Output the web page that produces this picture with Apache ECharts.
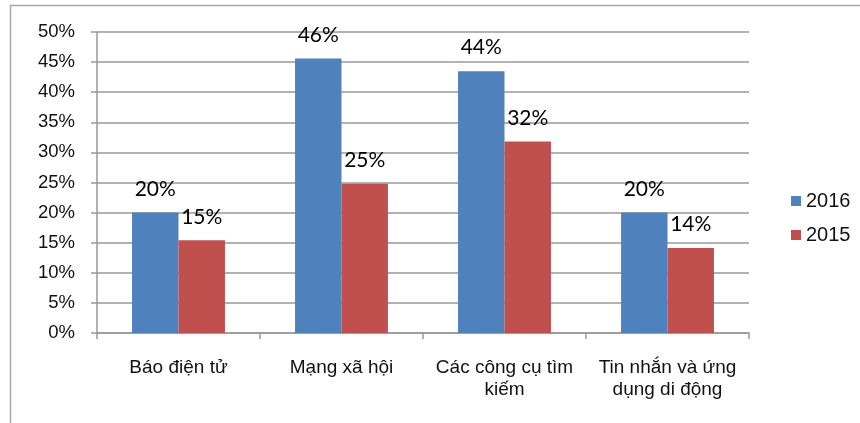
<!DOCTYPE html>
<html style="height: 100%">

<head>
    <meta charset="utf-8">
    <script src="https://cdn.jsdelivr.net/npm/echarts@6/dist/echarts.min.js"></script>
</head>

<body style="height: 100%; margin: 0; background: #fff">
    <div id="chart" style="width: 860px; height: 423px"></div>
    <script type="text/javascript">
        var categories = ['Báo điện tử', 'Mạng xã hội', 'Các công cụ tìm\nkiếm', 'Tin nhắn và ứng\ndụng di động'];
        var values2016 = [20, 45.6, 43.5, 20];
        var values2015 = [15.4, 24.8, 31.8, 14.1];
        var yTicks = [0, 5, 10, 15, 20, 25, 30, 35, 40, 45, 50];

        var myChart = echarts.init(document.getElementById('chart'));

        var barLabel = {
            show: true,
            position: 'top',
            distance: 13,
            fontFamily: 'Lato',
            fontSize: 21,
            color: '#000',
            formatter: function (p) {
                return Math.round(p.value) + '%';
            }
        };

        myChart.setOption({
            animation: false,
            graphic: [{
                type: 'rect',
                shape: { x: 10.5, y: 5.5, width: 900, height: 500 },
                style: { fill: 'none', stroke: '#a6a6a6', lineWidth: 1.5 }
            }],
            legend: {
                orient: 'vertical',
                left: 786,
                top: 186,
                itemWidth: 10,
                itemHeight: 10,
                itemGap: 14,
                icon: 'rect',
                textStyle: { fontFamily: 'Liberation Sans', fontSize: 20, color: '#111' },
                data: ['2016', '2015']
            },
            grid: { left: 97, right: 111, top: 32, bottom: 90 },
            xAxis: {
                type: 'category',
                data: categories,
                axisLine: { lineStyle: { color: '#999', width: 1.5 } },
                axisTick: { show: true, length: 6, lineStyle: { color: '#999', width: 1.5 } },
                axisLabel: {
                    fontFamily: 'Liberation Sans',
                    fontSize: 19,
                    color: '#111',
                    margin: 24,
                    lineHeight: 22,
                    interval: 0
                }
            },
            yAxis: {
                type: 'value',
                min: yTicks[0],
                max: yTicks[yTicks.length - 1],
                interval: 5,
                axisLine: { show: true, lineStyle: { color: '#999', width: 1.5 } },
                axisTick: { show: true, inside: false, length: 6, lineStyle: { color: '#999', width: 1.5 } },
                splitLine: { lineStyle: { color: '#999', width: 1.5 } },
                axisLabel: {
                    fontFamily: 'Liberation Sans',
                    fontSize: 18.5,
                    color: '#111',
                    margin: 22,
                    formatter: '{value}%'
                }
            },
            series: [{
                name: '2016',
                type: 'bar',
                data: values2016,
                barGap: '0%',
                barCategoryGap: '43%',
                itemStyle: { color: '#4F81BD' },
                label: barLabel
            }, {
                name: '2015',
                type: 'bar',
                data: values2015,
                itemStyle: { color: '#C0504D' },
                label: barLabel
            }]
        });
    </script>
</body>

</html>
